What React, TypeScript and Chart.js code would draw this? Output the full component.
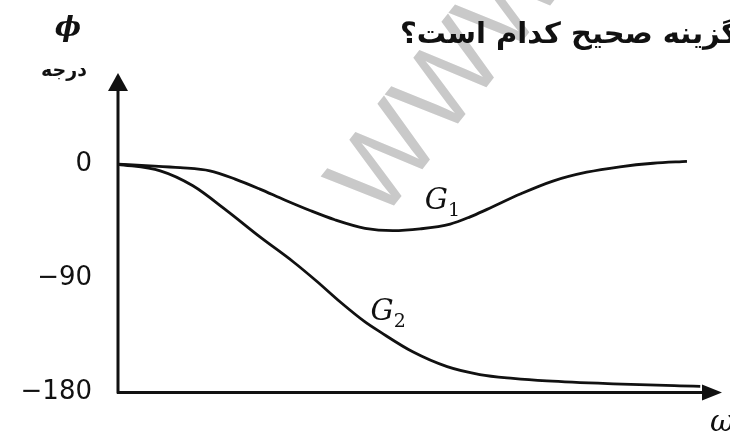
import { useEffect, useRef } from "react";
import { Chart, registerables } from "chart.js";

Chart.register(...registerables);

// ω (arbitrary units, 0 = origin, 100 = arrow tip of ω axis)
const omegaG1 = [0, 5.3, 10.3, 15.2, 19.4, 23.5, 27.6, 31.8, 35.9, 40.9, 45.5, 50.0, 55.0, 58.3, 61.1, 66.6, 72.0, 77.6, 83.1, 88.6, 94.2];
const phaseG1 = [0, -1.2, -2.7, -5.2, -11.7, -19.6, -28.2, -36.5, -43.8, -50.5, -52.4, -51.0, -47.2, -41.5, -35.6, -23.5, -13.3, -6.3, -2.0, 0.8, 2.3];

const omegaG2 = [0, 7.0, 12.4, 18.0, 23.5, 29.0, 32.9, 36.8, 40.9, 43.4, 48.8, 54.5, 59.9, 65.4, 71.0, 82.0, 93.0, 96.4];
const phaseG2 = [0, -5.2, -17.0, -36.6, -57.3, -76.9, -92.3, -108.7, -124.4, -132.3, -148.0, -159.7, -165.9, -168.9, -170.9, -173.2, -174.8, -175.2];

const phiTicks = [0, -90, -180];

const titleText = "گزینه صحیح کدام است؟";
const yUnitLabel = "درجه";
const yAxisSymbol = "ϕ";
const xAxisSymbol = "ω";
const seriesNames = ["G", "G"];
const seriesSubs = ["1", "2"];
const watermarkText = "WWW";

export default function App() {
  const ref = useRef<HTMLCanvasElement>(null);

  useEffect(() => {
    document.body.style.margin = "0";
    const canvas = ref.current;
    if (!canvas) return;

    const overlay = {
      id: "overlay",
      beforeDatasetsDraw(chart: any) {
        const ctx = chart.ctx;
        ctx.save();
        ctx.fillStyle = "#c9c9c9";
        ctx.font = "110px 'Liberation Sans'";
        ctx.translate(452, 82);
        ctx.rotate((-52 * Math.PI) / 180);
        ctx.textAlign = "center";
        ctx.textBaseline = "middle";
        ctx.fillText(watermarkText, 0, 0);
        ctx.restore();
      },
      afterDraw(chart: any) {
        const ctx = chart.ctx;
        const { left, right, top, bottom } = chart.chartArea;
        const xs = chart.scales.x;
        const ys = chart.scales.y;
        ctx.save();
        ctx.strokeStyle = "#111";
        ctx.fillStyle = "#111";
        ctx.lineWidth = 3;
        ctx.beginPath();
        ctx.moveTo(left, bottom + 1);
        ctx.lineTo(left, top + 12);
        ctx.moveTo(left - 1, bottom);
        ctx.lineTo(right - 14, bottom);
        ctx.stroke();
        // arrowheads
        ctx.beginPath();
        ctx.moveTo(left, top);
        ctx.lineTo(left - 10, top + 18);
        ctx.lineTo(left + 10, top + 18);
        ctx.closePath();
        ctx.fill();
        ctx.beginPath();
        ctx.moveTo(right, bottom);
        ctx.lineTo(right - 20, bottom - 8);
        ctx.lineTo(right - 20, bottom + 8);
        ctx.closePath();
        ctx.fill();

        // axis symbols
        ctx.textAlign = "center";
        ctx.textBaseline = "middle";
        ctx.font = "bold italic 28px 'DejaVu Serif'";
        ctx.fillText(yAxisSymbol, 68, 29);
        ctx.font = "bold 19px 'DejaVu Sans'";
        ctx.fillText(yUnitLabel, 64, 71);

        ctx.textAlign = "left";
        ctx.textBaseline = "alphabetic";
        ctx.font = "italic 30px 'DejaVu Serif'";
        ctx.fillText(xAxisSymbol, 710, 431);

        // title
        ctx.textAlign = "right";
        ctx.textBaseline = "middle";
        ctx.direction = "rtl";
        ctx.font = "bold 29px 'DejaVu Sans'";
        ctx.fillText(titleText, 738, 35);
        ctx.direction = "ltr";

        // series labels
        const labelPos = [
          { x: xs.getPixelForValue(50.8), y: ys.getPixelForValue(-35) },
          { x: xs.getPixelForValue(41.8), y: ys.getPixelForValue(-123) },
        ];
        labelPos.forEach((p, i) => {
          ctx.textAlign = "left";
          ctx.textBaseline = "alphabetic";
          ctx.font = "italic 29px 'DejaVu Serif'";
          ctx.fillText(seriesNames[i], p.x, p.y);
          const w = ctx.measureText(seriesNames[i]).width;
          ctx.font = "19px 'DejaVu Serif'";
          ctx.fillText(seriesSubs[i], p.x + w, p.y + 7);
        });
        ctx.restore();
      },
    };

    const chart = new Chart(canvas, {
      type: "line",
      data: {
        datasets: [
          {
            label: "G1",
            data: omegaG1.map((x, i) => ({ x, y: phaseG1[i] })),
            borderColor: "#111",
            borderWidth: 2.8,
            pointRadius: 0,
            cubicInterpolationMode: "monotone",
            fill: false,
          },
          {
            label: "G2",
            data: omegaG2.map((x, i) => ({ x, y: phaseG2[i] })),
            borderColor: "#111",
            borderWidth: 2.8,
            pointRadius: 0,
            cubicInterpolationMode: "monotone",
            fill: false,
          },
        ],
      },
      options: {
        responsive: false,
        animation: false,
        events: [],
        layout: { padding: { left: 0, right: 8, top: 73, bottom: 39 } },
        plugins: {
          legend: { display: false },
          tooltip: { enabled: false },
          title: { display: false },
        },
        scales: {
          x: {
            type: "linear",
            min: 0,
            max: 100,
            display: false,
          },
          y: {
            type: "linear",
            min: -180,
            max: 72,
            afterBuildTicks: (s: any) => {
              s.ticks = phiTicks.map((v) => ({ value: v }));
            },
            afterFit: (s: any) => {
              s.width = 118;
            },
            grid: { display: false, drawTicks: false },
            border: { display: false },
            ticks: {
              padding: 26,
              color: "#111",
              font: { family: "'DejaVu Sans'", size: 26 },
              callback: (v: any) => (Number(v) < 0 ? "−" + Math.abs(Number(v)) : String(v)),
            },
          },
        },
      },
      plugins: [overlay],
    });

    return () => chart.destroy();
  }, []);

  return <canvas ref={ref} width={730} height={434} style={{ display: "block" }} />;
}
